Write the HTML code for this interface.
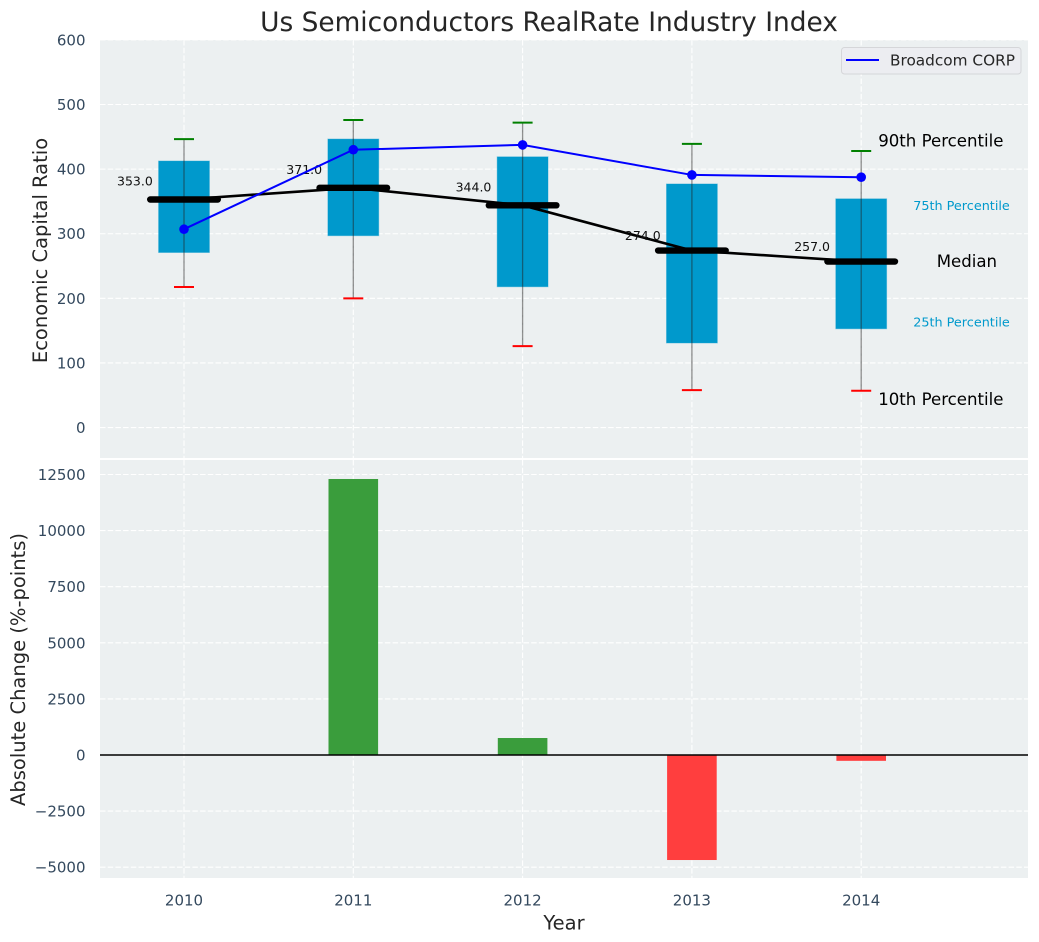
<!DOCTYPE html>
<html>
<head>
<meta charset="utf-8">
<title>Us Semiconductors RealRate Industry Index</title>
<style>
html,body{margin:0;padding:0;background:#fff;}
svg{display:block;font-family:"DejaVu Sans","Liberation Sans",sans-serif;}
</style>
</head>
<body>
<svg id="chart" xmlns="http://www.w3.org/2000/svg" width="1039" height="942" viewBox="0 0 1039 942"></svg>
<script>
const years = [2010, 2011, 2012, 2013, 2014];
const p90 = [446.5, 476, 472, 439, 428];
const p75 = [412.5, 446.5, 419, 377, 354];
const medians = [353, 371, 344, 274, 257];
const p25 = [271, 297, 218, 131, 153];
const p10 = [217.5, 200, 126, 58, 57];
const companyValues = [307, 430, 437.5, 391, 387.5];
const changeValues = [0, 12300, 757, -4680, -260];
const topTicks = [0, 100, 200, 300, 400, 500, 600];
const bottomTicks = [-5000, -2500, 0, 2500, 5000, 7500, 10000, 12500];
const bottomTickLabels = ['\u22125000', '\u22122500', '0', '2500', '5000', '7500', '10000', '12500'];

const NS = 'http://www.w3.org/2000/svg';
const svg = document.getElementById('chart');
const LEFT = 100, RIGHT = 1028;
const TOP1 = 40, BOT1 = 458, TOP2 = 460, BOT2 = 878;
const TICK_FONT = 15, LABEL_FONT = 19.5, GUIDE_FONT = 16.6, SMALL_FONT = 12.8;

function xScale(v) { return 184 + (v - 2010) * 169.3; }
function yTop(v) { return 427.6 - v * 0.6462; }
function yBot(v) { return 755 - v * 0.02244; }
function pxW(years_) { return years_ * 169.3; }

function make(tag, attrs, text) {
  const el = document.createElementNS(NS, tag);
  for (const k in attrs) el.setAttribute(k, attrs[k]);
  if (text !== undefined) el.textContent = text;
  svg.appendChild(el);
  return el;
}

// Panels
let el = make('rect', {x: LEFT, y: TOP1, width: RIGHT - LEFT, height: BOT1 - TOP1, fill: '#ecf0f1'});


el = make('rect', {x: LEFT, y: TOP2, width: RIGHT - LEFT, height: BOT2 - TOP2, fill: '#ecf0f1'});



const gridStyle = {stroke: '#ffffff', 'stroke-width': 1.1, 'stroke-dasharray': '5.5 2.2'};

// Grid
topTicks.forEach(function (t) {
  const y = yTop(t);
  const g = make('line', Object.assign({x1: LEFT, x2: RIGHT, y1: y, y2: y}, gridStyle));
  
  
  const lab = make('text', {x: 85.5, y: y + 5.5, 'text-anchor': 'end', 'font-size': TICK_FONT, fill: '#34495e'}, String(t));
  
  
});
bottomTicks.forEach(function (t, i) {
  const y = yBot(t);
  const g = make('line', Object.assign({x1: LEFT, x2: RIGHT, y1: y, y2: y}, gridStyle));
  
  
  const lab = make('text', {x: 85.5, y: y + 5.5, 'text-anchor': 'end', 'font-size': TICK_FONT, fill: '#34495e'}, bottomTickLabels[i]);
  
  
});
years.forEach(function (yr) {
  const x = xScale(yr);
  let g = make('line', Object.assign({x1: x, x2: x, y1: TOP1, y2: BOT1}, gridStyle));
  
  
  g = make('line', Object.assign({x1: x, x2: x, y1: TOP2, y2: BOT2}, gridStyle));
  
  
  const lab = make('text', {x: x, y: 905.5, 'text-anchor': 'middle', 'font-size': TICK_FONT, fill: '#34495e'}, String(yr));
  
  
});

// IQR boxes
years.forEach(function (yr, i) {
  const w = pxW(0.3);
  const b = make('rect', {x: xScale(yr) - w / 2, y: yTop(p75[i]), width: w, height: yTop(p25[i]) - yTop(p75[i]), fill: '#0099cc', stroke: '#0099cc', 'stroke-opacity': 0.4, 'stroke-width': 1});
  
  
});

// Whiskers and caps
years.forEach(function (yr, i) {
  const x = xScale(yr);
  const w = make('line', {x1: x, x2: x, y1: yTop(p90[i]), y2: yTop(p10[i]), stroke: '#222222', 'stroke-opacity': 0.5, 'stroke-width': 1.3});
  
  
  const c1 = make('line', {x1: x - 10, x2: x + 10, y1: yTop(p90[i]), y2: yTop(p90[i]), stroke: '#008000', 'stroke-width': 2});
  
  
  const c2 = make('line', {x1: x - 10, x2: x + 10, y1: yTop(p10[i]), y2: yTop(p10[i]), stroke: '#ff0000', 'stroke-width': 2});
  
  
});

// Median line
el = make('polyline', {points: years.map(function (yr, i) { return xScale(yr) + ',' + yTop(medians[i]); }).join(' '), fill: 'none', stroke: '#000000', 'stroke-width': 2.6});


years.forEach(function (yr, i) {
  const x = xScale(yr), y = yTop(medians[i]);
  const m = make('line', {x1: x - 33.8, x2: x + 33.8, y1: y, y2: y, stroke: '#000000', 'stroke-width': 6.4, 'stroke-linecap': 'round'});
  
  
  const lift = medians[i] > 300 ? 18.4 : 15.3;
  const t = make('text', {x: x - 67, y: y - lift + 4.6, 'font-size': 12.5, fill: '#111111'}, medians[i].toFixed(1));
  
  
});

// Company line
el = make('polyline', {points: years.map(function (yr, i) { return xScale(yr) + ',' + yTop(companyValues[i]); }).join(' '), fill: 'none', stroke: '#0000ff', 'stroke-width': 2});


years.forEach(function (yr, i) {
  const p = make('circle', {cx: xScale(yr), cy: yTop(companyValues[i]), r: 4.8, fill: '#0000ff'});
  
  
});

// Percentile guide labels
const lastX = xScale(years[years.length - 1]);
const lastI = years.length - 1;
el = make('text', {x: lastX + 17, y: yTop(p90[lastI]) - 4.5, 'font-size': GUIDE_FONT, fill: '#000000'}, '90th Percentile');


el = make('text', {x: lastX + 52, y: yTop(p75[lastI]) + 11.3, 'font-size': SMALL_FONT, fill: '#0099cc'}, '75th Percentile');


el = make('text', {x: lastX + 75.5, y: yTop(medians[lastI]) + 5.5, 'font-size': GUIDE_FONT, fill: '#000000'}, 'Median');


el = make('text', {x: lastX + 52, y: yTop(p25[lastI]) - 2.2, 'font-size': SMALL_FONT, fill: '#0099cc'}, '25th Percentile');


el = make('text', {x: lastX + 17, y: yTop(p10[lastI]) + 14, 'font-size': GUIDE_FONT, fill: '#000000'}, '10th Percentile');



// Change bars
years.forEach(function (yr, i) {
  const v = changeValues[i];
  const w = pxW(0.293);
  const y0 = yBot(0), y1 = yBot(v);
  const r = make('rect', {x: xScale(yr) - w / 2, y: Math.min(y0, y1), width: w, height: Math.abs(y1 - y0), fill: v >= 0 ? '#3a9d3c' : '#ff3e3e'});
  
  
});
el = make('line', {x1: LEFT, x2: RIGHT, y1: yBot(0), y2: yBot(0), stroke: '#000000', 'stroke-width': 1.6});



// Legend
el = make('rect', {x: 841.5, y: 47.5, width: 179.5, height: 26.5, rx: 3, fill: '#ecedf1', stroke: '#d5d6d9', 'stroke-width': 1});


el = make('line', {x1: 846, x2: 879, y1: 60, y2: 60, stroke: '#0000ff', 'stroke-width': 2});


el = make('text', {x: 890, y: 65.5, 'font-size': 15.3, fill: '#262626'}, 'Broadcom CORP');



// Titles
el = make('text', {x: 549, y: 31, 'text-anchor': 'middle', 'font-size': 26.4, fill: '#262626'}, 'Us Semiconductors RealRate Industry Index');


el = make('text', {x: 564, y: 929.5, 'text-anchor': 'middle', 'font-size': LABEL_FONT, fill: '#262626'}, 'Year');


el = make('text', {transform: 'translate(47,250.5) rotate(-90)', 'text-anchor': 'middle', 'font-size': LABEL_FONT, fill: '#262626'}, 'Economic Capital Ratio');


el = make('text', {transform: 'translate(25,669.5) rotate(-90)', 'text-anchor': 'middle', 'font-size': LABEL_FONT, fill: '#262626'}, 'Absolute Change (%-points)');


</script>
</body>
</html>
